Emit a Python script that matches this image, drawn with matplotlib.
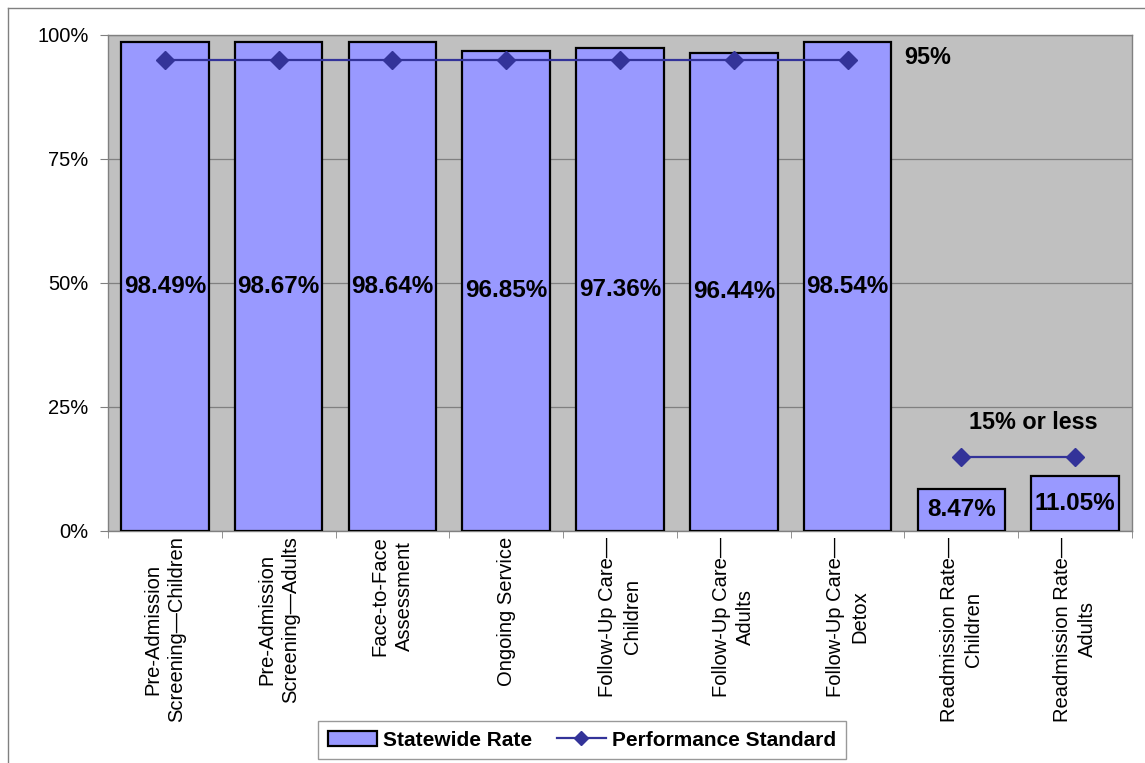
import matplotlib
matplotlib.use("Agg")
import matplotlib.pyplot as plt
import numpy as np
from matplotlib.lines import Line2D

categories = [
    "Pre-Admission\nScreening\u2014Children",
    "Pre-Admission\nScreening\u2014Adults",
    "Face-to-Face\nAssessment",
    "Ongoing Service",
    "Follow-Up Care\u2014\nChildren",
    "Follow-Up Care\u2014\nAdults",
    "Follow-Up Care\u2014\nDetox",
    "Readmission Rate\u2014\nChildren",
    "Readmission Rate\u2014\nAdults",
]
statewide_rate = [98.49, 98.67, 98.64, 96.85, 97.36, 96.44, 98.54, 8.47, 11.05]
performance_standard = [95, 95, 95, 95, 95, 95, 95, np.nan, np.nan]
performance_standard_readmit = [np.nan] * 7 + [15, 15]
yticks = [0, 25, 50, 75, 100]
ytick_labels = ["0%", "25%", "50%", "75%", "100%"]

plt.rcParams['font.family'] = ['Liberation Sans', 'DejaVu Sans']

W, H = 1145, 763
fig = plt.figure(figsize=(W / 100, H / 100), dpi=100)
ax = fig.add_axes([108 / W, 1 - 531 / H, (1132 - 108) / W, (531 - 35) / H])

x = np.arange(len(categories))
ax.set_facecolor("#C0C0C0")
bars = ax.bar(x, statewide_rate, width=0.77, color="#9999FF", edgecolor="black",
              linewidth=1.6, zorder=3, label="Statewide Rate")
line, = ax.plot(x, performance_standard, color="#333399", marker="D", markersize=9,
                linewidth=1.6, zorder=4, label="Performance Standard")
ax.plot(x, performance_standard_readmit, color="#333399", marker="D", markersize=9,
        linewidth=1.6, zorder=4)

for xi, v in zip(x, statewide_rate):
    ax.text(xi, v / 2, f"{v:.2f}%", ha="center", va="center", fontsize=17.5,
            fontweight="bold", zorder=5)

ax.text(6.7, 95.5, "95%", ha="center", va="center", fontsize=16.8, fontweight="bold")
ax.text(7.63, 21.8, "15% or less", ha="center", va="center", fontsize=16.8, fontweight="bold")

ax.set_xlim(-0.5, len(categories) - 0.5)
ax.set_ylim(0, 100)
ax.set_yticks(yticks)
ax.set_yticklabels(ytick_labels, fontsize=14.5)
ax.yaxis.grid(True, color="#808080", linewidth=0.9, zorder=0)
ax.set_axisbelow(True)

ax.set_xticks(x)
ax.set_xticklabels(categories, rotation=90, fontsize=14.5, va="top", ha="center",
                   multialignment="center", linespacing=1.35)
ax.tick_params(axis="x", length=0, pad=4)
ax.set_xticks(np.arange(-0.5, len(categories), 1), minor=True)
ax.tick_params(axis="x", which="minor", length=5, color="#808080")
ax.tick_params(axis="y", length=6, color="#808080", pad=8)

for s in ax.spines.values():
    s.set_color("#808080")
    s.set_linewidth(1.0)

leg_line = Line2D([], [], color="#333399", marker="D", markersize=7, linewidth=1.6)
leg = fig.legend(handles=[bars, leg_line], labels=["Statewide Rate", "Performance Standard"],
                 loc="center", bbox_to_anchor=(582 / W, 1 - 740 / H),
                 ncol=2, frameon=True, fancybox=False, edgecolor="#808080",
                 prop={"weight": "bold", "size": 15}, handlelength=2.35,
                 columnspacing=1.2, borderpad=0.45, handletextpad=0.3)
leg.get_frame().set_linewidth(1.0)

# outer chart border (top and left visible)
fig.add_artist(Line2D([8 / W, 1.0], [1 - 8 / H, 1 - 8 / H], transform=fig.transFigure,
                      color="#808080", linewidth=1.0))
fig.add_artist(Line2D([8 / W, 8 / W], [0, 1 - 8 / H], transform=fig.transFigure,
                      color="#808080", linewidth=1.0))

fig.savefig("out.png", dpi=100, facecolor="white")
